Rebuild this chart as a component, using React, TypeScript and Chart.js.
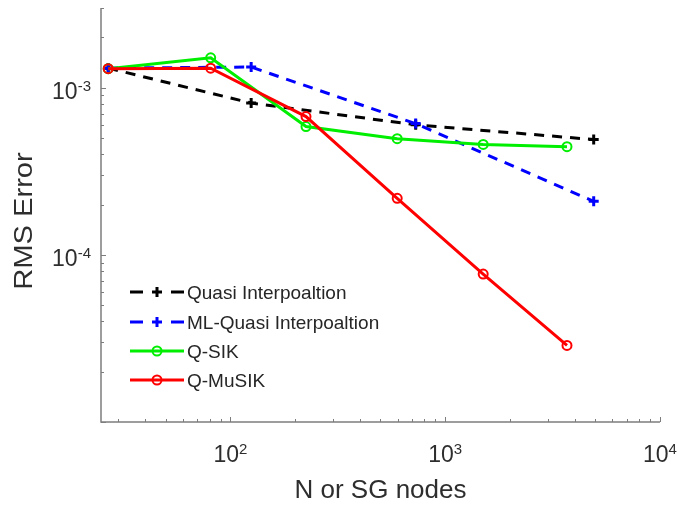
import React, { useEffect, useRef } from 'react';
import { Chart, registerables } from 'chart.js';

Chart.register(...registerables);

const FONT = '"Liberation Sans", Arial, Helvetica, sans-serif';

// ---- data ----
const xTensor = [27, 125, 729, 4913];
const quasiInterp = [1.31e-3, 8.1e-4, 6.0e-4, 4.9e-4];
const mlQuasiInterp = [1.31e-3, 1.33e-3, 6.1e-4, 2.09e-4];

const xSparse = [27, 81, 225, 598, 1503, 3690];
const qSIK = [1.3e-3, 1.51e-3, 5.86e-4, 4.96e-4, 4.58e-4, 4.44e-4];
const qMuSIK = [1.3e-3, 1.31e-3, 6.72e-4, 2.18e-4, 7.68e-5, 2.87e-5];

const seriesLabels = ['Quasi Interpoaltion', 'ML-Quasi Interpoaltion', 'Q-SIK', 'Q-MuSIK'];
const seriesColors = ['#000000', '#0000ff', '#00ee00', '#ff0000'];

const xMin = 25;
const xMax = 1e4;
const yMin = 1e-5;
const yMax = 3e-3;
const xMajorExps = [2, 3, 4];
const yMajorExps = [-5, -4, -3];

const xTitle = 'N or SG nodes';
const yTitle = 'RMS Error';

const toPts = (xs: number[], ys: number[]) => xs.map((x, i) => ({ x, y: ys[i] }));

const AXIS_COLOR = '#7d7d7d';
const TEXT_COLOR = '#2e2e2e';

function drawPow(ctx: CanvasRenderingContext2D, exp: string, x: number, baseline: number, align: 'right' | 'center') {
  ctx.font = `23px ${FONT}`;
  const wb = ctx.measureText('10').width;
  ctx.font = `15px ${FONT}`;
  const we = ctx.measureText(exp).width;
  const total = wb + we;
  const sx = align === 'right' ? x - total : x - total / 2;
  ctx.textAlign = 'left';
  ctx.textBaseline = 'alphabetic';
  ctx.fillStyle = TEXT_COLOR;
  ctx.font = `23px ${FONT}`;
  ctx.fillText('10', sx, baseline);
  ctx.font = `15px ${FONT}`;
  ctx.fillText(exp, sx + wb, baseline - 8);
}

const matlabAxes = {
  id: 'matlabAxes',
  beforeDatasetsDraw(chart: any) {
    const ctx: CanvasRenderingContext2D = chart.ctx;
    const { left, right, top, bottom } = chart.chartArea;
    const xs = chart.scales.x;
    const ys = chart.scales.y;
    ctx.save();
    ctx.strokeStyle = AXIS_COLOR;
    ctx.lineWidth = 1.5;
    ctx.beginPath();
    ctx.moveTo(left, top);
    ctx.lineTo(left, bottom);
    ctx.lineTo(right, bottom);
    ctx.stroke();
    ctx.lineWidth = 1;
    // x ticks
    for (let e = 1; e <= 4; e++) {
      for (let m = 1; m <= 9; m++) {
        const v = m * Math.pow(10, e);
        if (v < xMin - 1e-9 || v > xMax + 1e-9) continue;
        const px = Math.round(xs.getPixelForValue(v)) + 0.5;
        const len = m === 1 ? 5 : 3;
        ctx.beginPath();
        ctx.moveTo(px, bottom);
        ctx.lineTo(px, bottom - len);
        ctx.stroke();
      }
    }
    // y ticks
    for (let e = -5; e <= -3; e++) {
      for (let m = 1; m <= 9; m++) {
        const v = m * Math.pow(10, e);
        if (v < yMin * 0.999 || v > yMax * 1.001) continue;
        const py = Math.round(ys.getPixelForValue(v)) + 0.5;
        const len = m === 1 ? 5 : 3;
        ctx.beginPath();
        ctx.moveTo(left, py);
        ctx.lineTo(left + len, py);
        ctx.stroke();
      }
    }
    ctx.restore();
  },
  afterDraw(chart: any) {
    const ctx: CanvasRenderingContext2D = chart.ctx;
    const { left, right, bottom } = chart.chartArea;
    const xs = chart.scales.x;
    const ys = chart.scales.y;
    ctx.save();
    // tick labels
    xMajorExps.forEach((e) => {
      const px = xs.getPixelForValue(Math.pow(10, e));
      drawPow(ctx, String(e), px, bottom + 40, 'center');
    });
    yMajorExps.forEach((e) => {
      const v = Math.pow(10, e);
      if (v < yMin * 1.001) return;
      const py = ys.getPixelForValue(v);
      drawPow(ctx, String(e), left - 10, py + 11, 'right');
    });
    // axis titles
    ctx.fillStyle = TEXT_COLOR;
    ctx.font = `26px ${FONT}`;
    ctx.textAlign = 'center';
    ctx.textBaseline = 'alphabetic';
    ctx.fillText(xTitle, (left + right) / 2, 498);
    ctx.save();
    ctx.translate(32, 221);
    ctx.rotate(-Math.PI / 2);
    ctx.scale(1.12, 1);
    ctx.fillText(yTitle, 0, 0);
    ctx.restore();

    // legend
    const rows = [292, 322, 351, 380];
    const x0 = 130;
    const x1 = 184;
    const xm = 157;
    chart.data.datasets.forEach((ds: any, i: number) => {
      const cy = rows[i];
      ctx.strokeStyle = ds.borderColor;
      ctx.lineWidth = ds.borderWidth;
      ctx.beginPath();
      if (ds.borderDash && ds.borderDash.length) {
        ctx.moveTo(x0, cy);
        ctx.lineTo(x0 + 13, cy);
        ctx.moveTo(x1 - 13, cy);
        ctx.lineTo(x1, cy);
      } else {
        ctx.moveTo(x0, cy);
        ctx.lineTo(x1, cy);
      }
      ctx.stroke();
      ctx.lineWidth = ds.pointBorderWidth;
      ctx.beginPath();
      if (ds.pointStyle === 'cross') {
        const r = ds.pointRadius;
        ctx.moveTo(xm - r, cy);
        ctx.lineTo(xm + r, cy);
        ctx.moveTo(xm, cy - r);
        ctx.lineTo(xm, cy + r);
      } else {
        ctx.arc(xm, cy, ds.pointRadius, 0, Math.PI * 2);
      }
      ctx.stroke();
      ctx.fillStyle = '#262626';
      ctx.font = `19px ${FONT}`;
      ctx.textAlign = 'left';
      ctx.fillText(ds.label, 187, cy + 7);
    });
    ctx.restore();
  },
};

export default function App() {
  const ref = useRef<HTMLCanvasElement | null>(null);
  useEffect(() => {
    if (!ref.current) return;
    const mk = (i: number, xs: number[], ys: number[], dashed: boolean, order: number) => ({
      label: seriesLabels[i],
      data: toPts(xs, ys),
      borderColor: seriesColors[i],
      backgroundColor: seriesColors[i],
      borderWidth: 3,
      borderDash: dashed ? [10, 8] : [],
      pointStyle: dashed ? 'cross' : 'circle',
      pointRadius: dashed ? 5 : 4.5,
      pointBorderWidth: dashed ? 3 : 2,
      pointBorderColor: seriesColors[i],
      pointBackgroundColor: 'rgba(0,0,0,0)',
      fill: false,
      tension: 0,
      order,
    });
    const chart = new Chart(ref.current, {
      type: 'line',
      data: {
        datasets: [
          mk(0, xTensor, quasiInterp, true, 4),
          mk(1, xTensor, mlQuasiInterp, true, 3),
          mk(2, xSparse, qSIK, false, 2),
          mk(3, xSparse, qMuSIK, false, 1),
        ] as any,
      },
      options: {
        animation: false,
        responsive: false,
        devicePixelRatio: 1,
        layout: { padding: { top: 5, right: 18, left: 0, bottom: 0 } },
        plugins: { legend: { display: false }, tooltip: { enabled: false } },
        scales: {
          x: {
            type: 'logarithmic',
            min: xMin,
            max: xMax,
            grid: { display: false, drawTicks: false },
            border: { display: false },
            ticks: { display: false },
            afterFit: (s: any) => { s.height = 84; },
          },
          y: {
            type: 'logarithmic',
            min: yMin,
            max: yMax,
            grid: { display: false, drawTicks: false },
            border: { display: false },
            ticks: { display: false },
            afterFit: (s: any) => { s.width = 101; },
          },
        },
      } as any,
      plugins: [matlabAxes],
    });
    return () => chart.destroy();
  }, []);
  return (
    <div style={{ position: 'absolute', left: 0, top: 0, width: 678, height: 506, background: '#ffffff' }}>
      <canvas ref={ref} width={678} height={506} style={{ display: 'block' }} />
    </div>
  );
}
